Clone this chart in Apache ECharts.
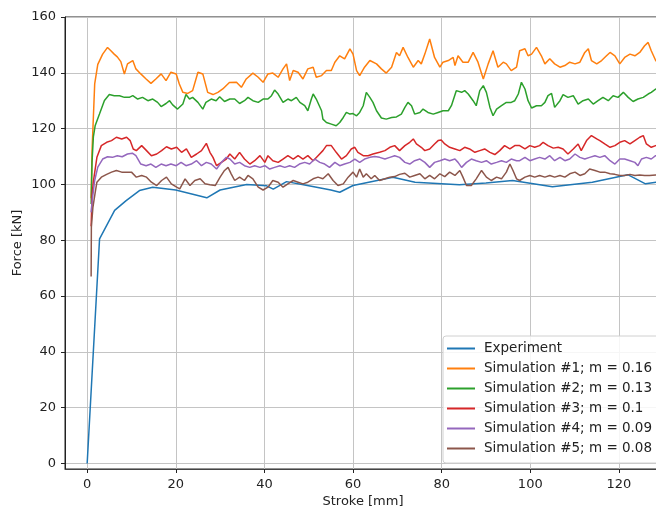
<!DOCTYPE html>
<html>
<head>
<meta charset="utf-8">
<script src="https://cdn.jsdelivr.net/npm/echarts@6/dist/echarts.min.js"></script>
<style>
    html, body { margin: 0; padding: 0; background: #fff; }
    #chart { width: 656px; height: 511px; }
</style>
</head>
<body>
<div id="chart"></div>
<script>
// tick labels
const xTicks = [0, 20, 40, 60, 80, 100, 120];
const yTicks = [0, 20, 40, 60, 80, 100, 120, 140, 160];

const seriesNames = [
    'Experiment',
    'Simulation #1; m = 0.16',
    'Simulation #2; m = 0.13',
    'Simulation #3; m = 0.1',
    'Simulation #4; m = 0.09',
    'Simulation #5; m = 0.08'
];
const seriesColors = ['#1f77b4', '#ff7f0e', '#2ca02c', '#d62728', '#9467bd', '#8c564b'];

// [stroke mm, force kN]
const experiment = [[0,0],[2.8,80.5],[6.2,90.7],[8.8,94.2],[11.8,97.8],[14.8,99],[20,98],[27,95.2],[30,98],[36,100],[40.5,99.5],[42,98.3],[45,101],[50,99.5],[55,98],[57,97.2],[60,99.6],[69,102.6],[74,100.8],[84,99.9],[90,100.5],[96,101.4],[105,99.2],[114,100.8],[122,103.5],[126,100.2],[129.5,101]];

const sim1 = [[0.9,95],[1.1,112],[1.4,124],[1.7,136],[2.4,143],[3.5,146.7],[4.6,149.1],[5.3,148],[6.1,146.7],[6.8,145.7],[7.6,144],[8.4,139.6],[9.1,143.2],[10.3,144.4],[11,141.4],[12.1,139.6],[13.3,137.8],[14.4,136.2],[15.5,137.8],[16.7,139.6],[17.8,137.2],[18.9,140.2],[20.1,139.6],[20.8,136],[21.6,133],[22.7,132.6],[23.8,133.6],[25,140.2],[26.1,139.6],[27.2,133],[28.4,132.2],[29.5,133],[30.6,134.2],[32.1,136.5],[33.7,136.6],[34.8,134.8],[35.9,137.8],[37.4,139.9],[38.6,138.4],[39.7,136.6],[40.8,139.6],[41.9,139.9],[43.1,138.4],[44.2,141.4],[45,143.2],[45.7,137.2],[46.5,140.8],[47.6,140.2],[48.7,137.8],[49.8,141.4],[51,142],[51.7,138.4],[52.9,139],[54,140.8],[55.1,140.8],[55.9,143.8],[57,146.1],[58.1,145],[59.3,148.6],[60,146.7],[60.8,140.8],[61.5,139],[62.6,142],[63.8,144.4],[65.3,143.2],[66.4,141.4],[67.5,139.9],[68.7,142],[69.8,147.3],[70.5,146.1],[71.3,149.1],[72.4,145.5],[73.6,142],[74.7,144.4],[75.4,143.2],[76.2,146.7],[77.3,152.1],[78.4,145.5],[79.6,142],[80.3,143.8],[81.5,144.4],[82.6,145.5],[83,142.6],[83.7,146.1],[84.8,143.8],[86,143.8],[87.1,147.3],[88.2,143.8],[89.4,137.8],[90.5,143.2],[91.6,147.9],[92.7,142],[93.9,143.8],[94.6,143.2],[95.7,140.8],[96.9,142],[97.6,147.9],[98.8,148.6],[99.5,146.1],[100.3,146.7],[101.4,149.1],[102.5,146.1],[103.3,143.2],[104.4,145],[105.5,143.2],[106.7,142],[107.8,142.6],[108.9,143.8],[110.1,143.2],[111.2,143.8],[112.3,147.3],[113.1,148.6],[113.8,144.4],[115,143.2],[116.1,144.4],[117.2,146.1],[118,147.3],[119.1,146.1],[120.2,143.2],[121.3,145.5],[122.5,146.7],[123.6,146.1],[124.7,147.3],[125.8,149.7],[126.6,150.9],[127.3,147.9],[128.3,144.4],[129.5,143]];

const sim2 = [[0.9,93],[1.1,108],[1.4,117],[1.8,121],[2.8,125.3],[3.9,130.1],[5,132.2],[6.1,131.8],[7.3,131.8],[8.4,131.2],[9.5,131.2],[10.3,131.8],[11.4,130.6],[12.5,131.2],[13.7,130],[14.8,130.6],[15.9,129.4],[16.7,127.9],[17.8,129],[18.6,130],[19.3,128.5],[20.4,127],[21.6,128.8],[22.3,132.2],[23.1,130.6],[23.8,131.2],[25,129.4],[26.1,127],[26.8,129.4],[28,130.6],[29.1,130],[29.9,131.4],[31,129.7],[32.2,130.6],[33.3,130.6],[34.4,129],[35.5,130],[36.3,131.2],[37.4,130],[38.6,129.4],[39.7,130.6],[40.8,130.6],[41.6,131.8],[42.3,133.8],[43.1,132.4],[44.2,129.4],[45.3,130.6],[46.1,130],[47.2,131.2],[48,129.4],[49.1,128.2],[49.8,126.4],[50.6,130.6],[51,132.4],[51.7,130.6],[52.9,126.4],[53.2,123.4],[54,122.2],[55.1,121.6],[56.2,121],[57,122.2],[57.8,124],[58.5,125.8],[59.3,125.2],[60,125.4],[60.8,124.6],[61.5,125.8],[62.3,128.2],[63,133],[63.8,131.2],[64.5,129.4],[65.3,126.4],[66.4,123.8],[67.5,123.4],[68.7,124],[69.8,124.2],[70.9,125.2],[71.7,127.6],[72.4,129.4],[73.2,128.2],[73.9,125.2],[75.1,125.8],[75.8,127],[76.9,125.8],[78.1,125.2],[79.2,125.8],[80.3,126.4],[81.5,126.4],[82.2,128.2],[83.3,133.6],[84.5,133],[85.2,133.6],[86,132.4],[87.1,130],[87.8,128.2],[88.6,133.6],[89.4,135.4],[90.1,133],[90.9,127.6],[91.6,124.6],[92.4,127],[93.5,128.2],[94.6,129.4],[95.7,129.4],[96.5,130],[97.3,132.4],[98,136.6],[98.8,134.2],[99.5,130],[100.3,127.4],[101.4,128.2],[102.5,128.2],[103.3,129.4],[104,131.8],[104.8,132.6],[105.5,127.6],[106.7,130],[107.4,132.2],[108.5,131.2],[109.7,131.8],[110.8,128.8],[111.9,130],[113.1,130.6],[114.2,128.8],[115.3,130],[116.4,131.2],[117.6,130],[118.7,131.8],[119.8,131.2],[121,133],[122.1,131.2],[123.2,129.7],[124.3,130.6],[125.5,131.2],[126.6,132.4],[127.3,133],[128.3,134.2],[129.5,133.5]];

const sim3 = [[0.9,85],[1.1,96],[1.4,101],[2.2,109.7],[3.2,113.9],[4.4,115.1],[5.5,115.7],[6.6,116.9],[7.8,116.3],[8.9,116.9],[9.7,115.7],[10.4,112.7],[11.1,112.1],[12.3,113.9],[13.4,112.1],[14.5,110.3],[15.7,110.9],[16.8,112.1],[17.9,113.5],[19,112.7],[20.2,113.3],[21.3,111.5],[22.4,112.7],[23.5,109.7],[24.7,110.9],[25.8,112.1],[26.9,114.7],[27.7,111.5],[28.4,109.7],[29.2,106.7],[30.3,107.9],[31.4,109.1],[32.2,110.9],[33.3,109.1],[34.4,111.5],[35.5,109.1],[36.7,107.3],[37.8,108.5],[39,110.3],[40.1,107.9],[40.8,110.3],[41.9,108.5],[43.1,107.9],[44.2,109.1],[45.3,110.3],[46.5,109.1],[47.6,110.3],[48.7,109.1],[49.8,110.3],[51,108.5],[52.1,110.3],[53.2,112.1],[54,113.9],[55.1,113.9],[56.2,111.5],[57.4,109.1],[58.5,110.3],[59.6,112.7],[60.4,113.3],[61.1,111.5],[62.3,110.3],[63.4,110.3],[64.5,110.9],[66,111.5],[67.2,112.1],[68.3,113.3],[69.4,113.9],[70.5,112.1],[71.7,113.9],[72.8,115.1],[73.6,116.3],[74.3,114.5],[75.4,113.3],[76.2,112.1],[77.3,112.7],[78.4,114.5],[79.2,115.7],[79.9,115.9],[80.7,114.5],[81.8,113.3],[83,112.7],[84.1,112.1],[85.2,113.3],[86.3,112.7],[87.5,111.5],[88.6,112.1],[89.7,112.7],[90.9,111.5],[92,110.7],[93.1,112.1],[94.2,113.9],[95.4,112.7],[96.5,113.9],[97.6,113.9],[98.8,112.7],[99.9,113.9],[101,113.3],[102.1,113.9],[102.9,115.1],[104,113.9],[105.2,113],[106.3,113.3],[107.4,112.7],[108.5,110.9],[109.7,112.7],[110.8,114.5],[111.5,112.1],[112.7,115.7],[113.8,117.5],[115,116.3],[115.7,115.7],[116.8,114.5],[118,113.3],[119.1,113.9],[120.2,115.1],[121.3,115.7],[122.5,114.5],[123.6,115.7],[124.7,116.9],[125.5,117.5],[126.2,114.5],[127.3,113.3],[128.3,113.9],[129.5,114.2]];

const sim4 = [[0.9,90],[1.2,95],[1.7,101.4],[2.4,106.2],[3.5,109.1],[4.6,109.9],[5.7,109.7],[6.8,110.3],[7.9,109.9],[9.1,110.9],[10.2,111.2],[11,110.3],[12.1,107.3],[13.3,106.7],[14.4,107.3],[15.5,106.1],[16.7,107.3],[17.8,106.7],[18.9,107.3],[20.1,106.7],[21.2,107.9],[22.3,106.7],[23.5,107.3],[24.7,108.5],[25.8,106.7],[26.9,107.9],[28,107.3],[29.2,105.5],[30.3,107.9],[31.4,109.7],[32.2,109.1],[33.3,107.3],[34.4,107.9],[35.5,106.7],[36.7,106.1],[37.8,106.7],[39,106.1],[40.1,106.7],[41.2,105.5],[42.3,106.1],[43.5,106.7],[44.6,106.1],[45.7,106.7],[46.8,106.1],[47.9,107.3],[49.1,107.9],[50.2,107.3],[51.4,109.1],[52.5,107.9],[53.6,107.3],[54.7,106.1],[55.9,107.9],[57,106.7],[58.1,107.3],[59.3,107.9],[60.4,109.1],[61.5,107.9],[62.6,109.1],[63.8,109.7],[64.9,110],[66,109.7],[67.2,109.1],[68.3,109.7],[69.4,110.3],[70.5,109.7],[71.7,107.9],[72.8,107.3],[73.9,108.5],[75.1,109.1],[76.2,107.9],[77.3,106.1],[78.4,107.9],[79.6,108.5],[80.7,109.1],[81.8,108.5],[83,109.1],[83.7,107.9],[84.5,106.1],[85.6,107.9],[86.7,109.1],[87.8,108.5],[89,107.9],[90.1,108.5],[91.2,107.3],[92.4,107.9],[93.5,108.5],[94.6,107.9],[95.7,109.1],[96.9,108.5],[97.6,108.5],[98.8,109.7],[99.9,108.5],[101,109.1],[102.1,109.7],[103.3,109.1],[104.4,110.3],[105.5,108.5],[106.7,109.7],[107.8,108.5],[108.9,109.1],[110.1,110.9],[111.2,109.7],[112.3,109.1],[113.4,109.7],[114.6,110.3],[115.7,109.7],[116.8,110.3],[118,108.5],[119.1,107.3],[120.2,109.1],[121.3,109.1],[122.5,108.5],[123.6,107.9],[124.3,106.7],[125.1,109.1],[126.2,109.7],[127.3,109.1],[128.3,110.3],[129.5,110]];

const sim5 = [[0.9,67],[0.95,84.7],[1.3,91.8],[1.8,97],[2.2,100.8],[3.2,102.6],[4.4,103.6],[5.5,104.4],[6.6,105],[7.8,104.4],[8.9,104.4],[10,104.4],[11.1,102.6],[12.3,103.2],[13.4,102.6],[14.5,100.8],[15.7,99.6],[16.8,101.4],[17.9,102.6],[19,100.2],[20.2,99],[20.9,98.4],[22.1,102],[23.2,99.6],[24.3,101.4],[25.5,102],[26.6,100.2],[27.7,99.9],[28.9,99.6],[30,102.6],[31,105],[31.8,106.1],[32.5,103.8],[33.3,101.4],[34.4,102.6],[35.5,101.4],[36.3,103.2],[37.4,102],[38.6,99],[39.7,98],[40.8,99],[41.9,101.4],[43.1,100.8],[44.2,99],[45.3,100.2],[46.5,101.4],[47.6,100.8],[48.7,100.2],[49.8,100.8],[51,102],[52.1,102.6],[53.2,102],[54.4,103.8],[55.5,101.4],[56.6,99.6],[57.8,100.2],[58.9,102.6],[60,104.4],[60.8,102.6],[61.5,105.5],[62.3,102.6],[63,103.8],[64.1,102],[64.9,103.2],[66,101.4],[67.2,102],[68.3,102.6],[69.4,102.8],[70.5,103.6],[71.7,104],[72.8,102.6],[73.9,103.2],[75.1,103.8],[76.2,102],[77.3,103.2],[78.4,102],[79.6,103.8],[80.7,102.8],[81.8,104.4],[83,103.2],[84.1,105],[84.8,102.6],[85.6,99.6],[86.7,99.6],[87.8,102],[89,105],[90.1,102.6],[91.2,101.4],[92.4,102.6],[93.5,102],[94.6,104.4],[95.4,107.3],[96.1,105],[96.9,102],[97.6,101.4],[98.8,102.6],[99.9,103.2],[101,102.6],[102.1,103.2],[103.3,102.6],[104.4,103.2],[105.5,102.6],[106.7,103.2],[107.8,102.6],[108.9,103.8],[110.1,104.4],[111.2,103.2],[112.3,103.8],[113.4,105.5],[114.6,105],[115.7,104.4],[116.8,104.4],[118,103.8],[119.1,103.6],[120.2,103.2],[121.3,103.2],[122.5,103.6],[123.6,103.2],[124.7,103.4],[125.8,103.2],[126.9,103.2],[128.3,103.4],[129.5,103.3]];

const seriesData = [experiment, sim1, sim2, sim3, sim4, sim5];

const chart = echarts.init(document.getElementById('chart'), null, { renderer: 'canvas' });
const font = 'DejaVu Sans';

let series = seriesNames.map((name, i) => ({
    name: name,
    type: 'line',
    data: seriesData[i],
    showSymbol: false,
    symbol: 'none',
    smooth: false,
    lineStyle: { color: seriesColors[i], width: 1.5 },
    itemStyle: { color: seriesColors[i] },
    z: 2 + i
}));

let option = {
    animation: false,
    textStyle: { fontFamily: font },
    grid: {
        left: 65,
        top: 17,
        width: 596,
        height: 452,
        show: true,
        borderColor: '#222',
        borderWidth: 1,
        containLabel: false,
        outerBoundsMode: 'none'
    },
    legend: {
        orient: 'vertical',
        left: 443,
        top: 336,
        data: seriesNames,
        icon: 'rect',
        itemWidth: 28,
        itemHeight: 2,
        itemGap: 5,
        padding: [5, 12, 7, 4],
        backgroundColor: 'rgba(255,255,255,0.85)',
        borderColor: '#d0d0d0',
        borderWidth: 1,
        borderRadius: 3,
        textStyle: {
            fontFamily: font,
            fontSize: 13.5,
            color: '#222',
            lineHeight: 15,
            padding: [0, 0, 0, 4]
        }
    },
    xAxis: {
        type: 'value',
        min: -5,
        max: 129.5,
        name: 'Stroke [mm]',
        nameLocation: 'middle',
        nameGap: 26,
        nameMoveOverlap: false,
        nameTextStyle: { fontFamily: font, fontSize: 13, color: '#222' },
        axisLine: { show: true, onZero: false, lineStyle: { color: '#444', width: 1.2 } },
        axisTick: { show: true, length: 4, customValues: xTicks, lineStyle: { color: '#222' } },
        axisLabel: { customValues: xTicks, margin: 9, fontFamily: font, fontSize: 13, color: '#222' },
        splitLine: { show: true, lineStyle: { color: '#c4c4c4', width: 1 } }
    },
    yAxis: {
        type: 'value',
        min: -2,
        max: 160,
        name: 'Force [kN]',
        nameLocation: 'middle',
        nameGap: 41,
        nameMoveOverlap: false,
        nameTextStyle: { fontFamily: font, fontSize: 13, color: '#222' },
        axisLine: { show: true, onZero: false, lineStyle: { color: '#222', width: 1 } },
        axisTick: { show: true, length: 4, customValues: yTicks, lineStyle: { color: '#222' } },
        axisLabel: { customValues: yTicks, margin: 9, fontFamily: font, fontSize: 13, color: '#222' },
        splitLine: { show: true, lineStyle: { color: '#c4c4c4', width: 1 } }
    },
    series: series
};

chart.setOption(option);
</script>
</body>
</html>
